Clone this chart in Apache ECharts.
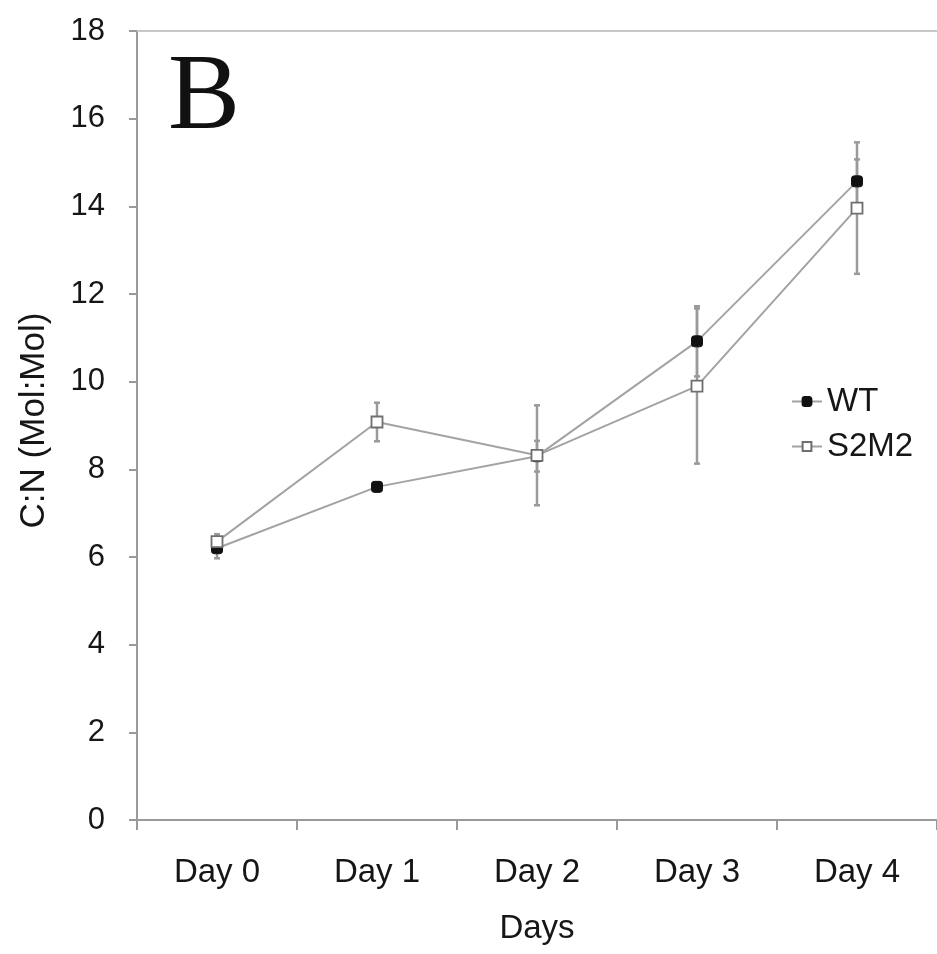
<!DOCTYPE html>
<html>
<head>
<meta charset="utf-8">
<script src="https://cdn.jsdelivr.net/npm/echarts@6/dist/echarts.min.js"></script>
<style>html,body{margin:0;padding:0;background:#fff}#c{width:937px;height:954px}</style>
</head>
<body>
<div id="c"></div>
<script>
const days = ['Day 0', 'Day 1', 'Day 2', 'Day 3', 'Day 4'];
const wtMean = [6.2, 7.6, 8.3, 10.92, 14.57];
const wtErr = [0.23, 0.1, 0.35, 0.8, 0.5];
const s2m2Mean = [6.35, 9.08, 8.32, 9.9, 13.96];
const s2m2Err = [0.17, 0.44, 1.14, 1.77, 1.5];
const yTicks = [0, 2, 4, 6, 8, 10, 12, 14, 16, 18];

const FONT = '"Liberation Sans", Arial, sans-serif';
const GREY = '#a3a3a3';
const TXT = '#161616';

function errData(mean, err) {
  return mean.map((m, i) => [i, m - err[i], m + err[i]]);
}
function errRender(params, api) {
  const x = api.value(0);
  const lo = api.coord([x, api.value(1)]);
  const hi = api.coord([x, api.value(2)]);
  const cw = 3;
  const st = { stroke: '#9a9a9a', lineWidth: 2.5 };
  return {
    type: 'group',
    children: [
      { type: 'line', shape: { x1: lo[0], y1: lo[1], x2: hi[0], y2: hi[1] }, style: st },
      { type: 'line', shape: { x1: lo[0] - cw, y1: lo[1], x2: lo[0] + cw, y2: lo[1] }, style: st },
      { type: 'line', shape: { x1: hi[0] - cw, y1: hi[1], x2: hi[0] + cw, y2: hi[1] }, style: st }
    ]
  };
}

const chart = echarts.init(document.getElementById('c'), null, { renderer: 'canvas' });
chart.setOption({
  backgroundColor: '#fff',
  animation: false,
  textStyle: { fontFamily: FONT },
  grid: { left: 137, right: 0, top: 31, bottom: 134 },
  legend: {
    orient: 'vertical',
    left: 786,
    top: 380,
    itemWidth: 30,
    itemHeight: 11,
    itemGap: 12,
    textStyle: { fontFamily: FONT, fontSize: 33, color: TXT, padding: [0, 0, 0, 0] },
    data: ['WT', 'S2M2']
  },
  xAxis: [{
    type: 'category',
    data: days,
    boundaryGap: true,
    axisLine: { lineStyle: { color: '#9a9a9a', width: 2 } },
    axisTick: { show: true, length: 10, lineStyle: { color: '#9a9a9a', width: 2 } },
    axisLabel: { fontFamily: FONT, fontSize: 33, color: TXT, margin: 36 },
    name: 'Days',
    nameLocation: 'middle',
    nameGap: 92,
    nameTextStyle: { fontFamily: FONT, fontSize: 33, color: TXT }
  }, {
    type: 'category',
    data: days,
    position: 'top',
    axisLine: { lineStyle: { color: '#c8c8c8', width: 2 } },
    axisTick: { show: false },
    axisLabel: { show: false }
  }],
  yAxis: {
    type: 'value',
    min: 0,
    max: 18,
    interval: 2,
    axisLine: { show: true, lineStyle: { color: '#9a9a9a', width: 2 } },
    axisTick: { show: true, length: 8, lineStyle: { color: '#9a9a9a', width: 2 } },
    splitLine: { show: false },
    axisLabel: {
      fontFamily: FONT, fontSize: 31, color: TXT, margin: 32,
      formatter: v => (yTicks.indexOf(v) >= 0 ? String(v) : '')
    },
    name: 'C:N (Mol:Mol)',
    nameLocation: 'middle',
    nameGap: 85,
    nameTextStyle: { fontFamily: FONT, fontSize: 35, color: TXT, padding: [0, 0, 0, 10] }
  },
  graphic: [{
    type: 'text',
    left: 168,
    top: 46,
    style: { text: 'B', font: '108px "Liberation Serif", "Times New Roman", serif', fill: '#111' }
  }],
  series: [
    {
      type: 'custom', name: 'errWT', renderItem: errRender,
      data: errData(wtMean, wtErr), z: 1, silent: true
    },
    {
      type: 'custom', name: 'errS2', renderItem: errRender,
      data: errData(s2m2Mean, s2m2Err), z: 1, silent: true
    },
    {
      name: 'WT', type: 'line', data: wtMean, z: 3,
      symbol: 'roundRect', symbolSize: 11,
      lineStyle: { color: GREY, width: 2 },
      itemStyle: { color: '#111', borderColor: '#111', borderWidth: 1 }
    },
    {
      name: 'S2M2', type: 'line', data: s2m2Mean, z: 4,
      symbol: 'rect', symbolSize: 11,
      lineStyle: { color: GREY, width: 2 },
      itemStyle: { color: '#fff', borderColor: '#6e6e6e', borderWidth: 1.8 }
    }
  ]
});
</script>
</body>
</html>
